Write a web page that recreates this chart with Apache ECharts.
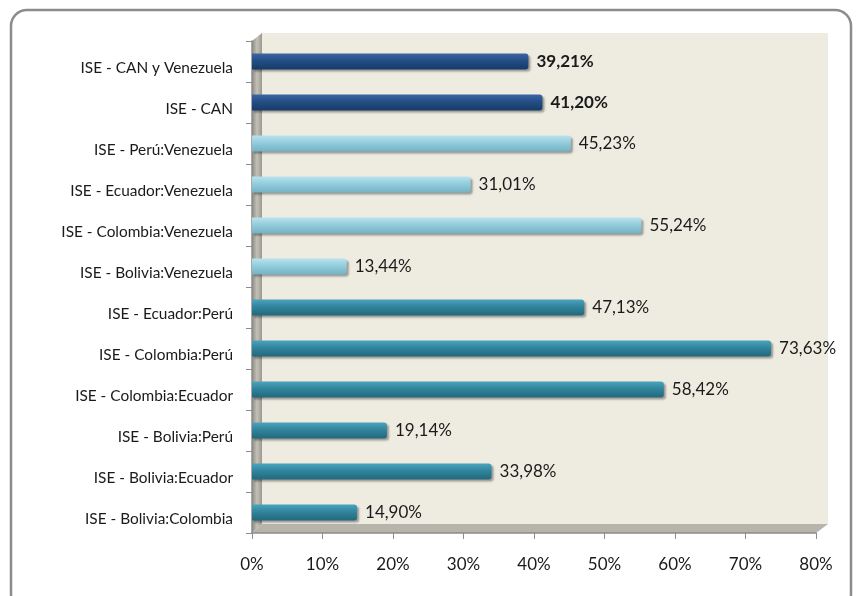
<!DOCTYPE html>
<html>
<head>
<meta charset="utf-8">
<script src="https://cdn.jsdelivr.net/npm/echarts@6/dist/echarts.min.js"></script>
<style>
  html, body { margin: 0; padding: 0; background: #fff; }
  #chart { width: 860px; height: 596px; }
</style>
</head>
<body>
<div id="chart"></div>
<script>
  // categories, bottom to top
  var categories = [
    'ISE - Bolivia:Colombia',
    'ISE - Bolivia:Ecuador',
    'ISE - Bolivia:Perú',
    'ISE - Colombia:Ecuador',
    'ISE - Colombia:Perú',
    'ISE - Ecuador:Perú',
    'ISE - Bolivia:Venezuela',
    'ISE - Colombia:Venezuela',
    'ISE - Ecuador:Venezuela',
    'ISE - Perú:Venezuela',
    'ISE - CAN',
    'ISE - CAN y Venezuela'
  ]
  var values = [14.90, 33.98, 19.14, 58.42, 73.63, 47.13, 13.44, 55.24, 31.01, 45.23, 41.20, 39.21]
  // 0 = par andino, 1 = par con Venezuela, 2 = agregado
  var groups = [0, 0, 0, 0, 0, 0, 1, 1, 1, 1, 2, 2]
  var xTicks = [0, 10, 20, 30, 40, 50, 60, 70, 80]

  var palette = [
    ['#4aa3bd', '#31859c', '#23687c'],
    ['#b9e2ee', '#93cddd', '#74b2c4'],
    ['#3b66a3', '#234e85', '#173b68']
  ]

  function fmt (v) {
    return v.toFixed(2).replace('.', ',') + '%'
  }

  var chart = echarts.init(document.getElementById('chart'))
  var font = 'Lato, "Open Sans", sans-serif'

  var data = values.map(function (v, i) {
    var c = palette[groups[i]]
    var bold = groups[i] === 2
    return {
      value: v,
      itemStyle: {
        color: new echarts.graphic.LinearGradient(0, 0, 0, 1, [
          { offset: 0, color: c[0] },
          { offset: 0.45, color: c[1] },
          { offset: 1, color: c[2] }
        ]),
        borderRadius: [0, 3, 3, 0],
        shadowColor: 'rgba(0,0,0,0.35)',
        shadowOffsetX: 2,
        shadowOffsetY: 2,
        shadowBlur: 2
      },
      label: { fontWeight: bold ? 'bold' : 'normal' }
    }
  })

  var option = {
    animation: false,
    backgroundColor: '#fff',
    graphic: [
      {
        type: 'rect',
        shape: { x: 11, y: 10, width: 840, height: 600, r: 16 },
        style: { fill: 'none', stroke: '#8c8c8c', lineWidth: 2.5 },
        z: -10
      },
      // back wall
      {
        type: 'rect',
        shape: { x: 262, y: 33, width: 566, height: 491 },
        style: { fill: '#eeece1' },
        z: -5
      },
      // left wall
      {
        type: 'polygon',
        shape: { points: [[252, 41], [262, 33], [262, 524], [252, 533]] },
        style: {
          fill: new echarts.graphic.LinearGradient(0, 0, 1, 0, [
            { offset: 0, color: '#8d8a84' },
            { offset: 0.5, color: '#c4c1b8' },
            { offset: 1, color: '#9a978f' }
          ])
        },
        z: -5
      },
      // floor
      {
        type: 'polygon',
        shape: { points: [[252, 533], [262, 524], [828, 524], [816, 533]] },
        style: { fill: '#b7b4ab' },
        z: -5
      }
    ],
    grid: {
      left: 252,
      right: 44,
      top: 41,
      bottom: 63
    },
    xAxis: {
      type: 'value',
      min: 0,
      max: 80,
      interval: 10,
      axisLine: { show: true, lineStyle: { color: '#8c8c8c', width: 1.5 } },
      axisTick: { show: true, length: 6, lineStyle: { color: '#8c8c8c' } },
      splitLine: { show: false },
      axisLabel: {
        formatter: function (v) { return xTicks.indexOf(v) >= 0 ? v + '%' : '' },
        color: '#1a1a1a',
        fontSize: 17,
        fontFamily: font,
        margin: 23
      }
    },
    yAxis: {
      type: 'category',
      data: categories,
      axisLine: { show: true, lineStyle: { color: '#8c8c8c', width: 1.5 } },
      axisTick: { show: true, length: 6, lineStyle: { color: '#8c8c8c' } },
      axisLabel: {
        color: '#1a1a1a',
        fontSize: 15.4,
        fontFamily: font,
        margin: 19,
        verticalAlign: 'top',
        lineHeight: 13
      }
    },
    series: [{
      type: 'bar',
      data: data,
      barWidth: 16,
      label: {
        show: true,
        position: 'right',
        distance: 8,
        color: '#1a1a1a',
        fontSize: 17,
        fontFamily: font,
        formatter: function (p) { return fmt(p.value) }
      }
    }]
  }

  chart.setOption(option)
</script>
</body>
</html>
